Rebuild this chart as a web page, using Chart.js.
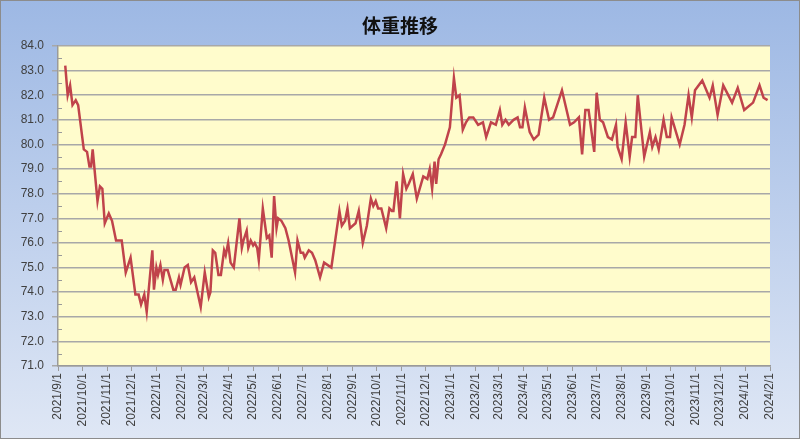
<!DOCTYPE html>
<html>
<head>
<meta charset="utf-8">
<script src="https://cdn.jsdelivr.net/npm/chart.js@4.4.1/dist/chart.umd.min.js"></script>
<style>
    html, body { margin: 0; padding: 0; background: #fff; }
    #wrap { width: 800px; height: 439px; }
</style>
</head>
<body>
<div id="wrap"><canvas id="weightChart" width="800" height="439"></canvas></div>
<script>
// measurement dates and weights (kg)
const dates = [
    '2021-09-10', '2021-09-13', '2021-09-16', '2021-09-19', '2021-09-23', '2021-09-26',
    '2021-10-03', '2021-10-07', '2021-10-10', '2021-10-12', '2021-10-14', '2021-10-20',
    '2021-10-23', '2021-10-26', '2021-10-29', '2021-11-03', '2021-11-07', '2021-11-12',
    '2021-11-19', '2021-11-24', '2021-11-30', '2021-12-06', '2021-12-10', '2021-12-13',
    '2021-12-17', '2021-12-20', '2021-12-27', '2021-12-29', '2022-01-01', '2022-01-03',
    '2022-01-06', '2022-01-09', '2022-01-11', '2022-01-15', '2022-01-22', '2022-01-25',
    '2022-01-29', '2022-01-31', '2022-02-05', '2022-02-09', '2022-02-13', '2022-02-17',
    '2022-02-21', '2022-02-25', '2022-03-02', '2022-03-07', '2022-03-09', '2022-03-12',
    '2022-03-15', '2022-03-19', '2022-03-22', '2022-03-26', '2022-03-28', '2022-03-31',
    '2022-04-03', '2022-04-07', '2022-04-14', '2022-04-17', '2022-04-19', '2022-04-23',
    '2022-04-25', '2022-04-28', '2022-05-01', '2022-05-03', '2022-05-06', '2022-05-08',
    '2022-05-13', '2022-05-18', '2022-05-21', '2022-05-24', '2022-05-27', '2022-05-30',
    '2022-06-01', '2022-06-05', '2022-06-10', '2022-06-14', '2022-06-22', '2022-06-25',
    '2022-06-29', '2022-07-02', '2022-07-04', '2022-07-09', '2022-07-13', '2022-07-17',
    '2022-07-23', '2022-07-28', '2022-08-06', '2022-08-16', '2022-08-19', '2022-08-23',
    '2022-08-26', '2022-08-29', '2022-09-05', '2022-09-09', '2022-09-14', '2022-09-19',
    '2022-09-24', '2022-09-27', '2022-09-30', '2022-10-03', '2022-10-07', '2022-10-13',
    '2022-10-17', '2022-10-20', '2022-10-22', '2022-10-26', '2022-10-30', '2022-11-03',
    '2022-11-07', '2022-11-10', '2022-11-15', '2022-11-20', '2022-11-28', '2022-12-03',
    '2022-12-06', '2022-12-09', '2022-12-12', '2022-12-14', '2022-12-17', '2022-12-20',
    '2022-12-25', '2022-12-31', '2023-01-05', '2023-01-08', '2023-01-12', '2023-01-16',
    '2023-01-20', '2023-01-24', '2023-01-29', '2023-02-04', '2023-02-10', '2023-02-14',
    '2023-02-20', '2023-02-26', '2023-03-03', '2023-03-06', '2023-03-10', '2023-03-14',
    '2023-03-20', '2023-03-25', '2023-03-28', '2023-03-31', '2023-04-03', '2023-04-09',
    '2023-04-14', '2023-04-20', '2023-04-27', '2023-05-03', '2023-05-08', '2023-05-19',
    '2023-05-29', '2023-06-03', '2023-06-09', '2023-06-13', '2023-06-17', '2023-06-21',
    '2023-06-28', '2023-07-01', '2023-07-05', '2023-07-09', '2023-07-15', '2023-07-20',
    '2023-07-25', '2023-07-27', '2023-08-01', '2023-08-06', '2023-08-11', '2023-08-14',
    '2023-08-18', '2023-08-21', '2023-08-29', '2023-09-05', '2023-09-08', '2023-09-12',
    '2023-09-16', '2023-09-22', '2023-09-26', '2023-09-30', '2023-10-02', '2023-10-12',
    '2023-10-18', '2023-10-23', '2023-10-27', '2023-10-31', '2023-11-09', '2023-11-18',
    '2023-11-22', '2023-11-28', '2023-12-05', '2023-12-16', '2023-12-23', '2023-12-31',
    '2024-01-11', '2024-01-19', '2024-01-24', '2024-01-29'
];
const weights = [
    83.2, 82.0, 82.4, 81.6, 81.8, 81.6,
    79.8, 79.7, 79.1, 79.1, 79.8, 77.7,
    78.3, 78.2, 76.8, 77.2, 76.9, 76.1,
    76.1, 74.8, 75.4, 73.9, 73.9, 73.5,
    73.9, 73.2, 75.7, 74.1, 75.0, 74.7,
    75.1, 74.5, 74.9, 74.9, 74.1, 74.1,
    74.6, 74.3, 75.0, 75.1, 74.4, 74.6,
    74.0, 73.4, 74.8, 73.8, 74.0, 75.7,
    75.6, 74.7, 74.7, 75.7, 75.5, 76.0,
    75.2, 75.0, 77.0, 75.8, 76.1, 76.5,
    75.8, 76.1, 75.9, 76.0, 75.8, 75.3,
    77.4, 76.2, 76.3, 75.4, 77.9, 76.6,
    77.0, 76.9, 76.6, 76.1, 74.8, 76.1,
    75.6, 75.6, 75.4, 75.7, 75.6, 75.3,
    74.6, 75.2, 75.0, 77.3, 76.7, 76.9,
    77.4, 76.6, 76.8, 77.3, 76.0, 76.7,
    77.8, 77.5, 77.7, 77.4, 77.4, 76.6,
    77.4, 77.3, 77.3, 78.5, 77.0, 78.8,
    78.2, 78.4, 78.8, 77.8, 78.7, 78.6,
    79.0, 78.2, 79.3, 78.4, 79.4, 79.6,
    80.0, 80.7, 82.7, 81.9, 82.0, 80.6,
    80.9, 81.1, 81.1, 80.8, 80.9, 80.3,
    80.9, 80.8, 81.4, 80.8, 81.0, 80.8,
    81.0, 81.1, 80.7, 80.7, 81.5, 80.5,
    80.2, 80.4, 81.9, 81.0, 81.1, 82.2,
    80.8, 80.9, 81.1, 79.6, 81.4, 81.4,
    79.7, 82.1, 81.0, 80.9, 80.3, 80.2,
    80.8, 79.9, 79.4, 80.9, 79.5, 80.3,
    80.3, 82.0, 79.5, 80.5, 79.9, 80.3,
    79.8, 81.0, 80.3, 80.3, 81.1, 80.0,
    80.8, 82.0, 81.1, 82.2, 82.6, 81.9,
    82.4, 81.2, 82.4, 81.7, 82.3, 81.4,
    81.7, 82.4, 81.9, 81.8
];
const monthTicks = [
    '2021/9/1', '2021/10/1', '2021/11/1', '2021/12/1', '2022/1/1', '2022/2/1',
    '2022/3/1', '2022/4/1', '2022/5/1', '2022/6/1', '2022/7/1', '2022/8/1',
    '2022/9/1', '2022/10/1', '2022/11/1', '2022/12/1', '2023/1/1', '2023/2/1',
    '2023/3/1', '2023/4/1', '2023/5/1', '2023/6/1', '2023/7/1', '2023/8/1',
    '2023/9/1', '2023/10/1', '2023/11/1', '2023/12/1', '2024/1/1', '2024/2/1'
];
const chartTitle = '体重推移';

// days since the first tick date, so the x axis can be a plain linear scale
function toDay(s) {
    const [y, m, d] = s.split(/[-\/]/).map(Number);
    return Math.round((Date.UTC(y, m - 1, d) - Date.UTC(2021, 8, 1)) / 86400000);
}
const tickDays = monthTicks.map(toDay);
const tickLabel = {};
monthTicks.forEach((t, i) => { tickLabel[tickDays[i]] = t; });

const points = dates.map((d, i) => ({ x: toDay(d), y: weights[i] }));

const backdrop = {
    id: 'backdrop',
    beforeDraw(chart) {
        const { ctx, width, height, chartArea: a } = chart;
        ctx.save();
        const g = ctx.createLinearGradient(0, 0, 0, height);
        g.addColorStop(0, '#9db8e4');
        g.addColorStop(1, '#dfe7f5');
        ctx.fillStyle = g;
        ctx.fillRect(0, 0, width, height);
        ctx.strokeStyle = '#8c8c8c';
        ctx.lineWidth = 1;
        ctx.strokeRect(0.5, 0.5, width - 1, height - 1);
        ctx.fillStyle = '#fffccc';
        ctx.fillRect(a.left, a.top, a.right - a.left, a.bottom - a.top);

        // title centred on the whole picture, not on the padded layout
        ctx.fillStyle = '#111';
        ctx.font = 'bold 19px "Noto Sans CJK JP"';
        ctx.textAlign = 'center';
        ctx.textBaseline = 'middle';
        ctx.fillText(chartTitle, width / 2, 26);
        ctx.restore();
    }
};

const minorTicks = {
    id: 'minorTicks',
    afterDraw(chart) {
        const { ctx } = chart;
        const y = chart.scales.y;
        ctx.save();
        ctx.strokeStyle = '#9a9a9a';
        ctx.lineWidth = 1;
        for (let v = 71.5; v < 84; v += 1) {
            const py = Math.round(y.getPixelForValue(v)) + 0.5;
            ctx.beginPath();
            ctx.moveTo(y.right, py);
            ctx.lineTo(y.right + 4, py);
            ctx.stroke();
        }
        ctx.restore();
    }
};

const tickFont = { family: 'Liberation Sans', size: 12 };

new Chart(document.getElementById('weightChart').getContext('2d'), {
    type: 'line',
    data: {
        datasets: [{
            label: '体重',
            data: points,
            borderColor: '#c0434b',
            borderWidth: 2.5,
            pointRadius: 0,
            tension: 0,
            fill: false
        }]
    },
    options: {
        responsive: false,
        animation: false,
        layout: { padding: { left: 0, right: 30, top: 46, bottom: 0 } },
        scales: {
            x: {
                type: 'linear',
                min: 0,
                max: tickDays[tickDays.length - 1],
                afterBuildTicks: (scale) => {
                    scale.ticks = tickDays.map(v => ({ value: v }));
                },
                afterFit: (scale) => { scale.height = 73; },
                ticks: {
                    autoSkip: false,
                    minRotation: 90,
                    maxRotation: 90,
                    color: '#404040',
                    font: tickFont,
                    padding: 2,
                    callback: (v) => tickLabel[v] || ''
                },
                grid: {
                    drawOnChartArea: false,
                    drawTicks: true,
                    tickLength: 5,
                    color: '#9a9a9a'
                },
                border: { color: '#9a9a9a', width: 1.5 }
            },
            y: {
                min: 71,
                max: 84,
                afterFit: (scale) => { scale.width = 58; },
                ticks: {
                    stepSize: 1,
                    color: '#404040',
                    font: tickFont,
                    padding: 8,
                    callback: (v) => v.toFixed(1)
                },
                grid: {
                    color: '#a8a8a8',
                    lineWidth: 1.5,
                    tickLength: 6
                },
                border: { color: '#9a9a9a', width: 1.5 }
            }
        },
        plugins: {
            legend: { display: false },
            tooltip: { enabled: false },
            title: { display: false }
        }
    },
    plugins: [backdrop, minorTicks]
});
</script>
</body>
</html>
